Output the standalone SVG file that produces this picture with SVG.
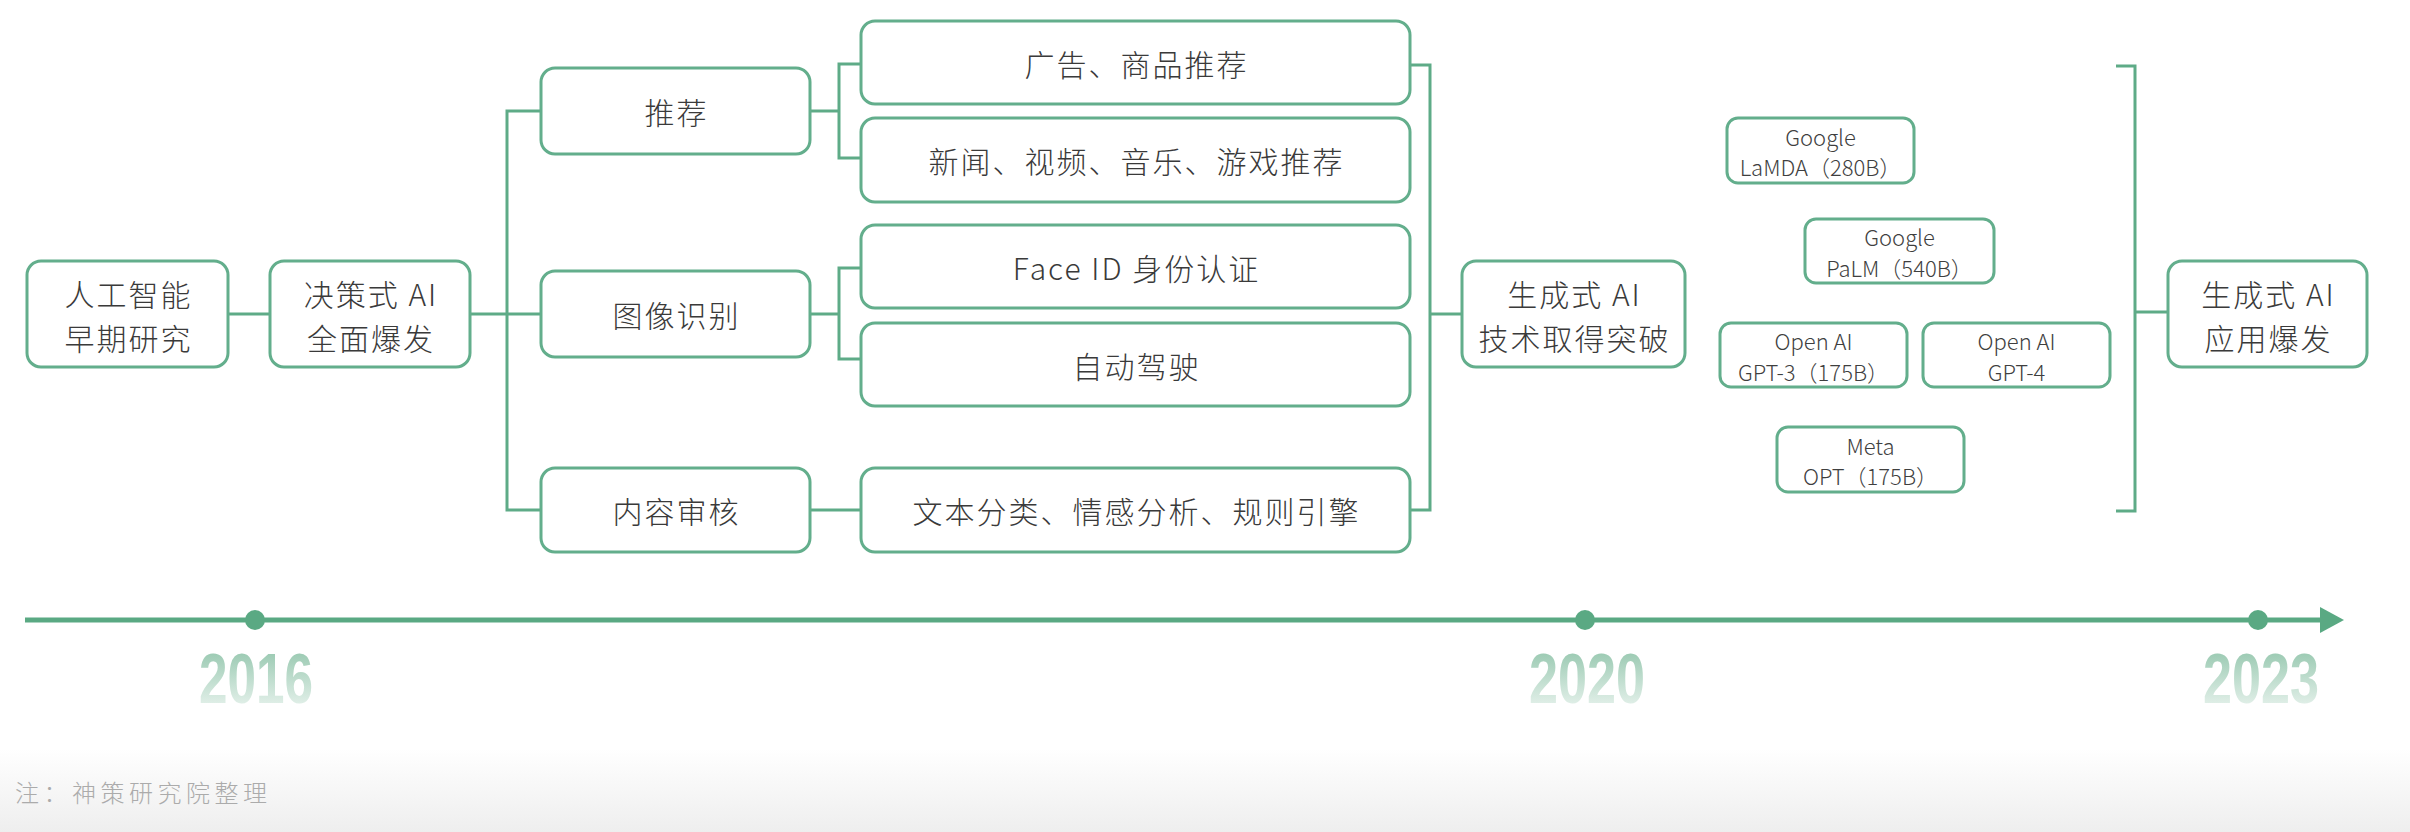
<svg xmlns="http://www.w3.org/2000/svg" width="2410" height="832" viewBox="0 0 2410 832">
  <defs>
    <linearGradient id="bg" x1="0" y1="0" x2="0" y2="1">
      <stop offset="0" stop-color="#ffffff"/>
      <stop offset="0.9" stop-color="#ffffff"/>
      <stop offset="1" stop-color="#eeeeee"/>
    </linearGradient>
    <linearGradient id="yr" x1="0" y1="0" x2="0" y2="1">
      <stop offset="0" stop-color="#8cc2a7"/>
      <stop offset="1" stop-color="#f2f8f5"/>
    </linearGradient>
    <style>
      .box { fill: #ffffff; stroke: #63ae8c; stroke-width: 3; }
      .t { font-family: "Noto Sans CJK SC", "Noto Sans", sans-serif; font-weight: 300; font-size: 30px; fill: #3a3a3a; text-anchor: middle; dominant-baseline: central; letter-spacing: 2px; }
      .s { font-family: "Noto Sans CJK SC", "Noto Sans", sans-serif; font-weight: 300; font-size: 22px; fill: #3f3f3f; text-anchor: middle; dominant-baseline: central; }
      .c { fill: none; stroke: #5eab87; stroke-width: 3; }
      .yr { font-family: "Liberation Sans", Arial, sans-serif; font-weight: bold; font-size: 70px; fill: url(#yr); text-anchor: middle; }
    </style>
  </defs>
  <rect x="0" y="0" width="2410" height="832" fill="url(#bg)"/>

  <g id="connectors">
    <path class="c" d="M228,314 H270"/>
    <path class="c" d="M470,314 H541"/>
    <path class="c" d="M541,111 H507 V510 H541"/>
    <path class="c" d="M810,111 H839"/>
    <path class="c" d="M861,64 H839 V158 H861"/>
    <path class="c" d="M810,314 H839"/>
    <path class="c" d="M861,268 H839 V359 H861"/>
    <path class="c" d="M810,510 H861"/>
    <path class="c" d="M1410,65 H1430 V510 H1410"/>
    <path class="c" d="M1430,314 H1462"/>
    <path class="c" d="M2116,66 H2135 V511 H2116"/>
    <path class="c" d="M2135,312 H2168"/>
  </g>

  <g id="n1"><rect class="box" x="27" y="261" width="201" height="106" rx="14"/>
    <text class="t" x="128.5" y="293">人工智能</text><text class="t" x="128.5" y="337">早期研究</text></g>
  <g id="n2"><rect class="box" x="270" y="261" width="200" height="106" rx="14"/>
    <text class="t" x="371" y="293">决策式 AI</text><text class="t" x="371" y="337">全面爆发</text></g>
  <g id="n3"><rect class="box" x="541" y="68" width="269" height="86" rx="14"/>
    <text class="t" x="676.5" y="111">推荐</text></g>
  <g id="n4"><rect class="box" x="541" y="271" width="269" height="86" rx="14"/>
    <text class="t" x="676.5" y="314">图像识别</text></g>
  <g id="n5"><rect class="box" x="541" y="468" width="269" height="84" rx="14"/>
    <text class="t" x="676.5" y="510">内容审核</text></g>
  <g id="n6"><rect class="box" x="861" y="21" width="549" height="83" rx="14"/>
    <text class="t" x="1136.5" y="62.5">广告、商品推荐</text></g>
  <g id="n7"><rect class="box" x="861" y="118" width="549" height="84" rx="14"/>
    <text class="t" x="1136.5" y="160">新闻、视频、音乐、游戏推荐</text></g>
  <g id="n8"><rect class="box" x="861" y="225" width="549" height="83" rx="14"/>
    <text class="t" x="1136.5" y="266.5">Face ID 身份认证</text></g>
  <g id="n9"><rect class="box" x="861" y="323" width="549" height="83" rx="14"/>
    <text class="t" x="1136.5" y="364.5">自动驾驶</text></g>
  <g id="n10"><rect class="box" x="861" y="468" width="549" height="84" rx="14"/>
    <text class="t" x="1136.5" y="510">文本分类、情感分析、规则引擎</text></g>
  <g id="n11"><rect class="box" x="1462" y="261" width="223" height="106" rx="14"/>
    <text class="t" x="1574.5" y="293">生成式 AI</text><text class="t" x="1574.5" y="337">技术取得突破</text></g>
  <g id="n12"><rect class="box" x="1727" y="118" width="187" height="65" rx="11"/>
    <text class="s" x="1820.5" y="135.5">Google</text><text class="s" x="1820.5" y="166">LaMDA（280B）</text></g>
  <g id="n13"><rect class="box" x="1805" y="219" width="189" height="64" rx="11"/>
    <text class="s" x="1899.5" y="236">Google</text><text class="s" x="1899.5" y="266.5">PaLM（540B）</text></g>
  <g id="n14"><rect class="box" x="1720" y="323" width="187" height="64" rx="11"/>
    <text class="s" x="1813.5" y="340">Open AI</text><text class="s" x="1813.5" y="370.5">GPT-3（175B）</text></g>
  <g id="n15"><rect class="box" x="1923" y="323" width="187" height="64" rx="11"/>
    <text class="s" x="2016.5" y="340">Open AI</text><text class="s" x="2016.5" y="370.5">GPT-4</text></g>
  <g id="n16"><rect class="box" x="1777" y="427" width="187" height="65" rx="11"/>
    <text class="s" x="1870.5" y="444.5">Meta</text><text class="s" x="1870.5" y="475">OPT（175B）</text></g>
  <g id="n17"><rect class="box" x="2168" y="261" width="199" height="106" rx="14"/>
    <text class="t" x="2268.5" y="293">生成式 AI</text><text class="t" x="2268.5" y="337">应用爆发</text></g>

  <g id="timeline">
    <line x1="25" y1="620" x2="2325" y2="620" stroke="#5aa983" stroke-width="5"/>
    <polygon points="2320,607 2344,620 2320,633" fill="#5aa983"/>
    <circle cx="255" cy="620" r="10" fill="#5aa983"/>
    <circle cx="1585" cy="620" r="10" fill="#5aa983"/>
    <circle cx="2258" cy="620" r="10" fill="#5aa983"/>
    <text class="yr" x="256" y="703" textLength="114" lengthAdjust="spacingAndGlyphs">2016</text>
    <text class="yr" x="1587" y="703" textLength="116" lengthAdjust="spacingAndGlyphs">2020</text>
    <text class="yr" x="2261" y="703" textLength="116" lengthAdjust="spacingAndGlyphs">2023</text>
  </g>

  <text x="15" y="802" font-family="Noto Sans CJK SC, sans-serif" font-weight="300" font-size="24" fill="#ababab" letter-spacing="4.5">注：神策研究院整理</text>
</svg>
